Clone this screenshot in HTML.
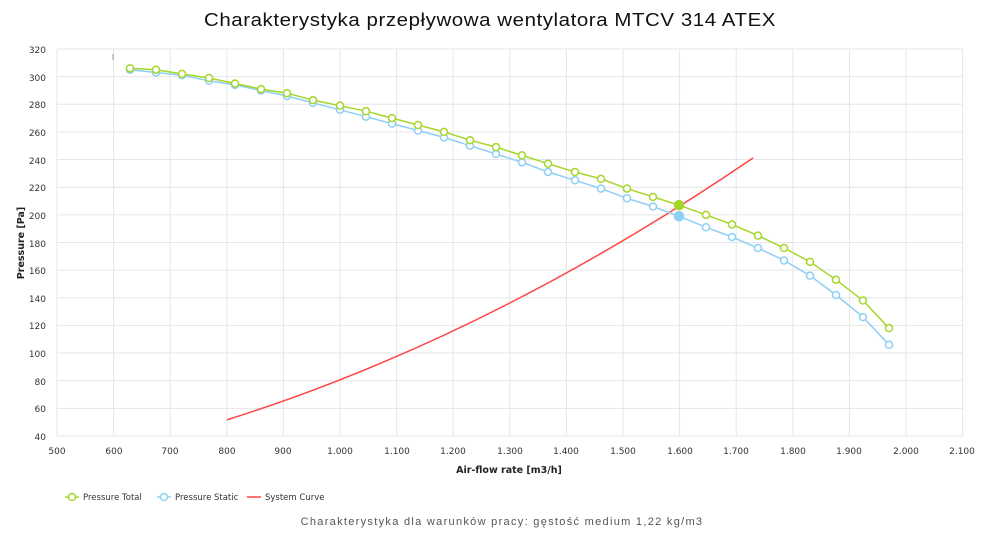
<!DOCTYPE html>
<html><head><meta charset="utf-8"><style>
body{margin:0;background:#fff;}
svg{display:block;font-family:"DejaVu Sans","Liberation Sans",sans-serif;}
.t{font-size:9px;fill:#333;}
</style></head><body>
<svg id="s" width="1000" height="541" viewBox="0 0 1000 541" xmlns="http://www.w3.org/2000/svg">
<rect width="1000" height="541" fill="#fff"/>
<text x="490" y="26" text-anchor="middle" font-size="18" fill="#111" font-family="Liberation Sans, sans-serif" letter-spacing="0.5" textLength="572" lengthAdjust="spacingAndGlyphs">Charakterystyka przepływowa wentylatora MTCV 314 ATEX</text>
<g id="grid" stroke="#e6e6e6" stroke-width="1"></g>
<line x1="113" y1="54" x2="113" y2="60" stroke="#999"/>
<g id="yl" class="t" text-anchor="end">
<text x="46" y="53">320</text><text x="46" y="81">300</text><text x="46" y="108">280</text><text x="46" y="136">260</text><text x="46" y="164">240</text><text x="46" y="191">220</text><text x="46" y="219">200</text><text x="46" y="247">180</text><text x="46" y="274">160</text><text x="46" y="302">140</text><text x="46" y="329">120</text><text x="46" y="357">100</text><text x="46" y="385">80</text><text x="46" y="412">60</text><text x="46" y="440">40</text>
</g>
<g class="t" text-anchor="middle">
<text x="57" y="454">500</text><text x="114" y="454">600</text><text x="170" y="454">700</text><text x="227" y="454">800</text><text x="283" y="454">900</text><text x="340" y="454">1.000</text><text x="397" y="454">1.100</text><text x="453" y="454">1.200</text><text x="510" y="454">1.300</text><text x="566" y="454">1.400</text><text x="623" y="454">1.500</text><text x="680" y="454">1.600</text><text x="736" y="454">1.700</text><text x="793" y="454">1.800</text><text x="849" y="454">1.900</text><text x="906" y="454">2.000</text><text x="962" y="454">2.100</text>
</g>
<text x="509" y="473" text-anchor="middle" font-size="9.5" font-weight="bold" fill="#222">Air-flow rate [m3/h]</text>
<text transform="translate(24,243) rotate(-90)" text-anchor="middle" font-size="9.5" font-weight="bold" fill="#222">Pressure [Pa]</text>
<path d="M226.8,419.9 Q490,337.1 753.2,157.9" fill="none" stroke="#ff4444" stroke-width="1.5"/>
<g id="series"></g>
<g font-size="8.5" fill="#333">
<line x1="65" y1="497" x2="79" y2="497" stroke="#a6d62a" stroke-width="1.5"/><circle cx="72" cy="497" r="3.5" fill="#fff" stroke="#a6d62a" stroke-width="1.5"/><text x="83" y="500">Pressure Total</text>
<line x1="157" y1="497" x2="171" y2="497" stroke="#8dd0f5" stroke-width="1.5"/><circle cx="164" cy="497" r="3.5" fill="#fff" stroke="#8dd0f5" stroke-width="1.5"/><text x="175" y="500">Pressure Static</text>
<line x1="247" y1="497" x2="261" y2="497" stroke="#ff4444" stroke-width="1.5"/><text x="265" y="500">System Curve</text>
</g>
<text x="502" y="525" text-anchor="middle" font-size="11" fill="#555" font-family="Liberation Sans, sans-serif" letter-spacing="1.3">Charakterystyka dla warunków pracy: gęstość medium 1,22 kg/m3</text>
</svg>
<script>
var ns="http://www.w3.org/2000/svg";
function el(t,a,p){var e=document.createElementNS(ns,t);for(var k in a)e.setAttribute(k,a[k]);p.appendChild(e);return e;}
var g=document.getElementById('grid');
for(var i=0;i<15;i++){var y=49+i*27.64;el('line',{x1:57,x2:963,y1:y,y2:y},g);}
for(var i=0;i<17;i++){var x=57+i*56.6;el('line',{x1:x,x2:x,y1:49,y2:436},g);}
var xs=[130,156,182,209,235,261,287,313,340,366,392,418,444,470,496,522,548,575,601,627,653,679,706,732,758,784,810,836,863,889];
var tot=[306,305,302,299,295,291,288,283,279,275,270,265,260,254,249,243,237,231,226,219,213,207,200,193,185,176,166,153,138,118];
var st=[305,303,301,297,294,290,286,281,276,271,266,261,256,250,244,238,231,225,219,212,206,199,191,184,176,167,156,142,126,106];
var s=document.getElementById('series');
function draw(v,c){var pts=xs.map(function(x,i){return x+','+(49+(320-v[i])*1.382).toFixed(1)}).join(' ');
el('polyline',{points:pts,fill:'none',stroke:c,'stroke-width':1.5},s);
xs.forEach(function(x,i){var y=49+(320-v[i])*1.382;var f=i==21;el('circle',{cx:x,cy:y,r:f?4.5:3.5,fill:f?c:'#fff',stroke:c,'stroke-width':1.5},s);});}
draw(st,'#8dd0f5');draw(tot,'#a6d62a');
</script>
</body></html>
